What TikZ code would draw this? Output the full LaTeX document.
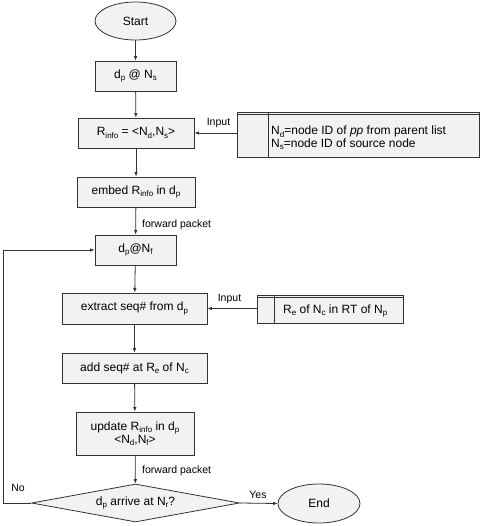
\documentclass[tikz,border=0pt]{standalone}
\usepackage{fontspec}
\setmainfont{Liberation Sans}
\usetikzlibrary{shapes.geometric,arrows.meta}
\newcommand\sbs[1]{\raisebox{-2.2pt}{\fontsize{8}{8}\selectfont #1}}
\definecolor{boxfill}{HTML}{F2F2F2}
\definecolor{linec}{HTML}{333333}
\tikzset{
  base/.style={draw=linec, fill=boxfill, line width=0.8pt, inner sep=0pt, font=\fontsize{12}{14}\selectfont, align=center},
  proc/.style={base, rectangle},
  term/.style={base, ellipse},
  dec/.style={base, diamond, aspect=5.5},
  tab/.style={draw=linec, fill=boxfill, line width=0.8pt, rectangle, inner sep=0pt},
  lab/.style={inner sep=0pt, font=\fontsize{10.5}{12}\selectfont},
  tabtxt/.style={inner sep=0pt, font=\fontsize{12}{14}\selectfont, align=left},
  arr/.style={draw=linec, line width=0.8pt, -{Latex[length=4.5pt,width=3.5pt]}},
  ln/.style={draw=linec, line width=0.8pt}
}
\begin{document}
\begin{tikzpicture}[x=1pt,y=-1pt]
\useasboundingbox (0,0) rectangle (485,526);
% flow nodes
\node[term, minimum width=81pt, minimum height=38pt] (start) at (135.5,21) {Start};
\node[proc, minimum width=81pt, minimum height=30pt] (ds) at (135.5,76) {d\sbs{p} @ N\sbs{s}};
\node[proc, minimum width=116pt, minimum height=30pt] (rinfo) at (136,133) {R\sbs{info} = <N\sbs{d},N\sbs{s}>};
\node[proc, minimum width=118pt, minimum height=30pt] (embed) at (136,192) {embed R\sbs{info} in d\sbs{p}};
\node[proc, minimum width=81pt, minimum height=30pt] (df) at (135.5,250) {d\sbs{p}@N\sbs{f}};
\node[proc, minimum width=145pt, minimum height=31pt] (extract) at (134.5,308.5) {extract seq\# from d\sbs{p}};
\node[proc, minimum width=145pt, minimum height=30pt] (add) at (134.5,368) {add seq\# at R\sbs{e} of N\sbs{c}};
\node[proc, minimum width=118pt, minimum height=43pt] (update) at (135,433.5) {update R\sbs{info} in d\sbs{p}\\[-1pt]<N\sbs{d},N\sbs{f}>};
\node[dec, minimum width=208pt, minimum height=38pt] (arrive) at (135.5,503) {d\sbs{p} arrive at N\sbs{r}?};
\node[term, minimum width=82pt, minimum height=39pt] (end) at (319,503.5) {End};
% tables
\node[tab, minimum width=242pt, minimum height=45pt] (tab1) at (358.5,134.5) {};
\draw[ln] (tab1.north west) ++(0,3) -- ++(242,0);
\draw[ln] (tab1.north west) ++(31,0) -- ++(0,45);
\node[tabtxt, anchor=west] (tab1txt) at (271,138) {N\sbs{d}=node ID of \textit{pp} from parent list\\[-1.5pt]N\sbs{s}=node ID of source node};
\node[tab, minimum width=146pt, minimum height=28pt] (tab2) at (330,309) {};
\draw[ln] (tab2.north west) ++(0,2.5) -- ++(146,0);
\draw[ln] (tab2.north west) ++(18,0) -- ++(0,28);
\node[tabtxt, anchor=west] (tab2txt) at (283,311) {R\sbs{e} of N\sbs{c} in RT of N\sbs{p}};
% labels
\node[lab] (in1) at (218.5,123) {Input};
\node[lab] (in2) at (229.5,299) {Input};
\node[lab, anchor=west] (fp1) at (142,225) {forward packet};
\node[lab, anchor=west] (fp2) at (142,471) {forward packet};
\node[lab] (yes) at (258,495) {Yes};
\node[lab] (no) at (18,488) {No};
% connectors
\draw[arr] (start) -- (ds);
\draw[arr] (ds) -- (rinfo);
\draw[arr] (rinfo) -- (embed);
\draw[arr] (embed) -- (df);
\draw[arr] (df) -- (extract);
\draw[arr] (extract) -- (add);
\draw[arr] (add) -- (update);
\draw[arr] (update) -- (arrive);
\draw[arr] (arrive.east) -- (end.west);
\draw[arr] (tab1.west |- rinfo.east) -- (rinfo.east);
\draw[arr] (tab2.west |- extract.east) -- (extract.east);
\coordinate (lft) at (3,0);
\draw[arr] (arrive.west) -- (arrive.west -| lft) -- (df.west -| lft) -- (df.west);
\end{tikzpicture}
\end{document}
